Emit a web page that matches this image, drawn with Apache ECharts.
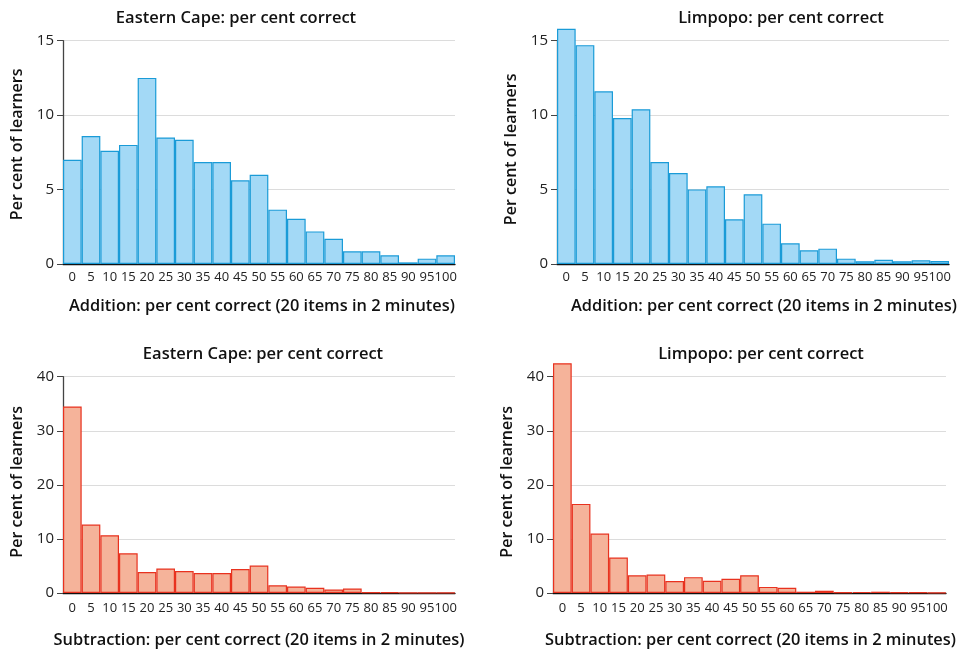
<!DOCTYPE html>
<html><head><meta charset="utf-8">
<script src="https://cdn.jsdelivr.net/npm/echarts@6/dist/echarts.min.js"></script>
<style>html,body{margin:0;padding:0;background:#fff}#c{width:964px;height:649px}</style>
</head><body><div id="c"></div>
<script>
const categories = ['0','5','10','15','20','25','30','35','40','45','50','55','60','65','70','75','80','85','90','95','100'];
const ecAddition = [7.0,8.6,7.6,8.0,12.5,8.5,8.35,6.85,6.85,5.62,6.0,3.65,3.04,2.19,1.70,0.85,0.85,0.58,0.11,0.36,0.58];
const lpAddition = [15.8,14.7,11.6,9.8,10.4,6.85,6.11,5.01,5.22,3.0,4.68,2.71,1.39,0.92,1.03,0.36,0.18,0.29,0.18,0.25,0.2];
const ecSubtraction = [34.5,12.66,10.69,7.34,3.88,4.54,4.06,3.70,3.70,4.42,5.07,1.43,1.19,0.96,0.66,0.84,0.12,0.12,0.03,0.03,0.03];
const lpSubtraction = [42.5,16.48,10.99,6.57,3.28,3.40,2.21,2.93,2.27,2.63,3.28,1.13,0.96,0.24,0.42,0.12,0.18,0.24,0.12,0.12,0.03];
const titles = ['Eastern Cape: per cent correct','Limpopo: per cent correct','Eastern Cape: per cent correct','Limpopo: per cent correct'];
const xNames = ['Addition: per cent correct (20 items in 2 minutes)','Addition: per cent correct (20 items in 2 minutes)','Subtraction: per cent correct (20 items in 2 minutes)','Subtraction: per cent correct (20 items in 2 minutes)'];
const yName = 'Per cent of learners';
const yMax = [15,15,40,40];
const yInterval = [5,5,10,10];

const FONT = 'Open Sans';
const grids = [
  {left:63, top:40.7, width:392, height:223.3},
  {left:557, top:40.7, width:392, height:223.3},
  {left:63, top:376.7, width:392, height:223.3},
  {left:553, top:376.7, width:393, height:223.3}
];
const seriesData = [ecAddition, lpAddition, ecSubtraction, lpSubtraction];
const blue = {fill:'#a3d9f6', stroke:'#1a9bd7'};
const red = {fill:'#f5b39a', stroke:'#e8321f'};
const titleCenters = [231, 776, 258, 756];
const titleTops = [5, 5, 341, 341];
const xNamePad = [[0,0,0,6],[0,0,0,22],[0,0,0,0],[0,0,0,2]];
const yNamePad = [[0,0,0,16],[0,0,0,6],[0,0,0,6],[0,0,0,6]];

const option = {
  animation:false,
  backgroundColor:'#fff',
  textStyle:{fontFamily:FONT},
  title: titles.map((t,i)=>({text:t, left:titleCenters[i], top:titleTops[i], textAlign:'center',
    textStyle:{fontFamily:FONT, fontSize:16.5, fontWeight:600, color:'#111'}})),
  grid: grids,
  xAxis: grids.map((g,i)=>({type:'category', gridIndex:i, data:categories,
    name:xNames[i], nameLocation:'middle', nameGap: i<2 ? 34 : 39,
    nameTextStyle:{fontFamily:FONT, fontSize:16.4, fontWeight:600, color:'#111', padding:xNamePad[i]},
    axisLine:{lineStyle:{color:'#111', width:1.3}}, axisTick:{show:false},
    axisLabel:{interval:0, fontFamily:FONT, fontSize:13, color:'#222', margin: i<2 ? 7 : 9}})),
  yAxis: grids.map((g,i)=>({type:'value', gridIndex:i, min:0, max:yMax[i], interval:yInterval[i],
    name:yName, nameLocation:'middle', nameGap:38,
    nameTextStyle:{fontFamily:FONT, fontSize:16, fontWeight:600, color:'#111', padding:yNamePad[i]},
    axisLine:{show:true, lineStyle:{color:'#444', width:1.3}},
    axisTick:{show:true, length:6, lineStyle:{color:'#444'}},
    axisLabel:{fontFamily:FONT, fontSize:15, color:'#222', margin:9},
    splitLine:{show:true, lineStyle:{color:'#dcdcdc', width:1}}})),
  series: seriesData.map((d,i)=>{
    const c = i<2 ? blue : red;
    return {type:'bar', xAxisIndex:i, yAxisIndex:i, data:d, barCategoryGap:'0%', clip:false,
      itemStyle:{color:c.fill, borderColor:c.stroke, borderWidth:1.2}};
  })
};
const chart = echarts.init(document.getElementById('c'), null, {renderer:'canvas'});
chart.setOption(option);
</script></body></html>
